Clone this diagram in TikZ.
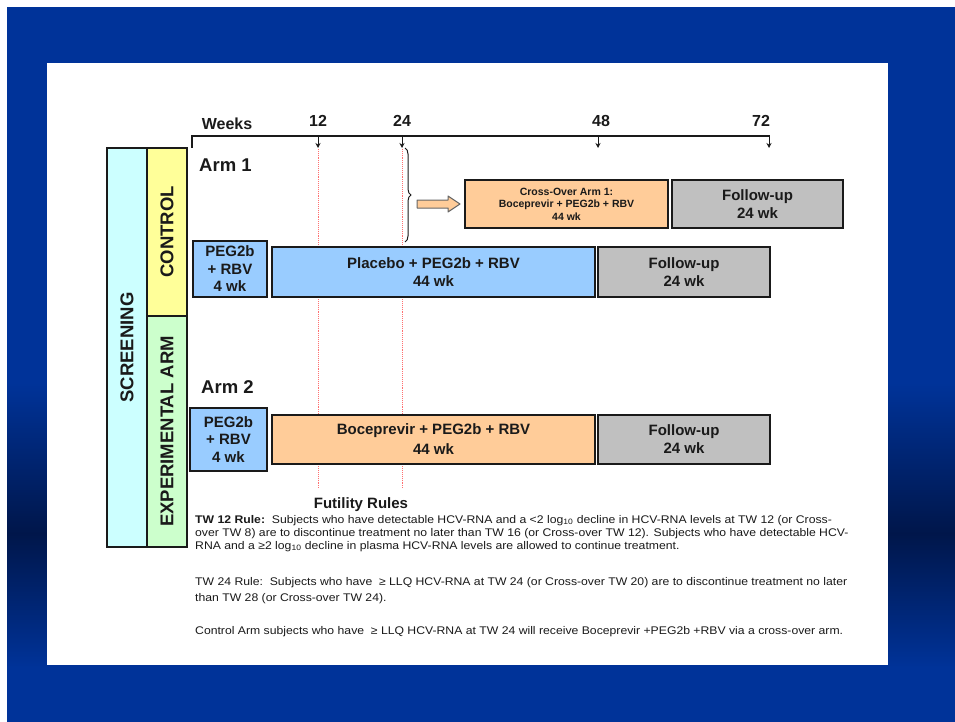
\documentclass[tikz,border=0pt]{standalone}
\usepackage{fontspec}
\setmainfont{Liberation Sans}
\newfontfamily\bodyfont[FakeStretch=1.1]{Liberation Sans}
\usetikzlibrary{decorations.pathreplacing,arrows.meta}
\definecolor{bgblue}{HTML}{003399}
\definecolor{bgdark}{HTML}{00164A}
\definecolor{scrcol}{HTML}{CCFFFF}
\definecolor{ctrlcol}{HTML}{FFFF99}
\definecolor{expcol}{HTML}{CCFFCC}
\definecolor{bluebox}{HTML}{99CCFF}
\definecolor{orangebox}{HTML}{FFCC99}
\definecolor{graybox}{HTML}{C0C0C0}
\definecolor{inkcol}{HTML}{1A1A1A}
\definecolor{dotred}{HTML}{FF7070}
\tikzset{
  box/.style={draw=inkcol, line width=1.3pt, inner sep=0pt, align=center, text=inkcol,
    font=\bfseries\fontsize{15}{18}\selectfont},
  vbar/.style={draw=inkcol, line width=1.3pt, inner sep=0pt, rotate=90, text=inkcol,
    font=\bfseries\fontsize{18.5}{20}\selectfont},
  axlab/.style={inner sep=0pt, text=inkcol, font=\bfseries\fontsize{16}{18}\selectfont},
  armlab/.style={inner sep=0pt, anchor=west, text=inkcol, font=\bfseries\fontsize{18.5}{20}\selectfont},
  tickarrow/.style={line width=1pt, draw=inkcol, -{Stealth[length=5pt,width=5pt]}},
  axisline/.style={line width=1.5pt, draw=inkcol},
  redline/.style={draw=dotred, line width=0.9pt, densely dotted},
  body/.style={inner sep=0pt, anchor=base west, text=inkcol, font=\bodyfont\fontsize{11.1}{13}\selectfont},
}
\begin{document}
\begin{tikzpicture}[x=1pt,y=-1pt]
\useasboundingbox (0,0) rectangle (955,722);
% background
\fill[white] (0,0) rectangle (955,722);
\fill[bgblue] (7,7) rectangle (955,384);
\shade[top color=bgblue,bottom color=bgdark] (7,383) rectangle (955,534);
\shade[top color=bgdark,bottom color=bgblue] (7,533) rectangle (955,668);
\fill[bgblue] (7,667) rectangle (955,722);
\fill[white] (47,63) rectangle (888,665);

% left bars
\node[vbar, fill=scrcol, minimum width=399pt, minimum height=40pt] (scr) at (127,347.5) {SCREENING};
\node[vbar, fill=ctrlcol, minimum width=168pt, minimum height=40pt] (ctrl) at (167,232) {CONTROL};
\node[vbar, fill=expcol, minimum width=231pt, minimum height=40pt] (exp) at (167,431.5) {EXPERIMENTAL ARM};

% axis
\coordinate (a0) at (192,136);
\coordinate (a0b) at (192,147);
\coordinate (t12) at (318,136);
\coordinate (b12) at (318,148);
\coordinate (t24) at (402,136);
\coordinate (b24) at (402,148);
\coordinate (t48) at (598,136);
\coordinate (b48) at (598,148);
\coordinate (t72) at (769,136);
\coordinate (b72) at (769,148);
\draw[axisline, line cap=rect] (a0b) -- (a0) -- (t72);
\draw[tickarrow] (t12) -- (b12);
\draw[tickarrow] (t24) -- (b24);
\draw[tickarrow] (t48) -- (b48);
\draw[tickarrow] (t72) -- (b72);
\node[axlab] (lw) at (227,124) {Weeks};
\node[axlab] (l12) at (318,121) {12};
\node[axlab] (l24) at (402,121) {24};
\node[axlab] (l48) at (601,121) {48};
\node[axlab] (l72) at (761,121) {72};

% red dotted lines
\coordinate (r12a) at (318,149);
\coordinate (r12b) at (318,488);
\coordinate (r24a) at (402,149);
\coordinate (r24b) at (402,488);
\draw[redline] (r12a) -- (r12b);
\draw[redline] (r24a) -- (r24b);

% arm labels
\node[armlab] (arm1) at (199,165) {Arm 1};
\node[armlab] (arm2) at (201,387) {Arm 2};

% arm 1 boxes
\node[box, fill=orangebox, minimum width=203pt, minimum height=48pt,
  font=\bfseries\fontsize{10.5}{12.5}\selectfont] (cross) at (566.5,204)
  {Cross-Over Arm 1:\\Boceprevir + PEG2b + RBV\\44 wk};
\node[box, fill=graybox, minimum width=171pt, minimum height=48pt] (fu0) at (757.5,204) {Follow-up\\24 wk};
\node[box, fill=bluebox, minimum width=74pt, minimum height=56pt,
  font=\bfseries\fontsize{15}{17.5}\selectfont] (peg1) at (230,269) {PEG2b\\+ RBV\\4 wk};
\node[box, fill=bluebox, minimum width=323pt, minimum height=50pt] (plac) at (433.5,272) {Placebo + PEG2b + RBV\\44 wk};
\node[box, fill=graybox, minimum width=172pt, minimum height=50pt] (fu1) at (684,272) {Follow-up\\24 wk};

% brace and arrow
\coordinate (br1) at (405,148);
\coordinate (br2) at (405,242);
\draw[inkcol, line width=1pt, decorate, decoration={brace, amplitude=6pt}] (br1) -- (br2);
\coordinate (arT) at (417,204);
\draw[draw=black!60, fill=orangebox, line width=1pt, line join=round]
  (arT) ++(0,-4) -- ++(31,0) -- ++(0,-4) -- ++(12,8) -- ++(-12,8) -- ++(0,-4) -- ++(-31,0) -- cycle;

% arm 2 boxes
\node[box, fill=bluebox, minimum width=77pt, minimum height=63pt,
  font=\bfseries\fontsize{15}{17.5}\selectfont] (peg2) at (228.5,439.5) {PEG2b\\+ RBV\\4 wk};
\node[box, fill=orangebox, minimum width=323pt, minimum height=49pt,
  font=\bfseries\fontsize{15}{20}\selectfont] (boc) at (433.5,439.5) {Boceprevir + PEG2b + RBV\\44 wk};
\node[box, fill=graybox, minimum width=172pt, minimum height=49pt] (fu2) at (684,439.5) {Follow-up\\24 wk};

% futility rules
\node[inner sep=0pt, text=inkcol, font=\bfseries\fontsize{15}{17}\selectfont] (fut) at (361,505) {Futility Rules};
\node[body] (l1) at (195,523) {\textbf{TW 12 Rule:}\ \ Subjects who have detectable HCV-RNA and a <2 log\textsubscript{10} decline in HCV-RNA levels at TW 12 (or Cross-};
\node[body] (l2) at (195,536) {over TW 8) are to discontinue treatment no later than TW 16 (or Cross-over TW 12). Subjects who have detectable HCV-};
\node[body] (l3) at (195,549) {RNA and a ≥2 log\textsubscript{10} decline in plasma HCV-RNA levels are allowed to continue treatment.};
\node[body] (l4) at (195,585) {TW 24 Rule:\ \ Subjects who have \ ≥ LLQ HCV-RNA at TW 24 (or Cross-over TW 20) are to discontinue treatment no later};
\node[body] (l5) at (195,601) {than TW 28 (or Cross-over TW 24).};
\node[body] (l6) at (195,634) {Control Arm subjects who have \ ≥ LLQ HCV-RNA at TW 24 will receive Boceprevir +PEG2b +RBV via a cross-over arm.};
\end{tikzpicture}
\end{document}
